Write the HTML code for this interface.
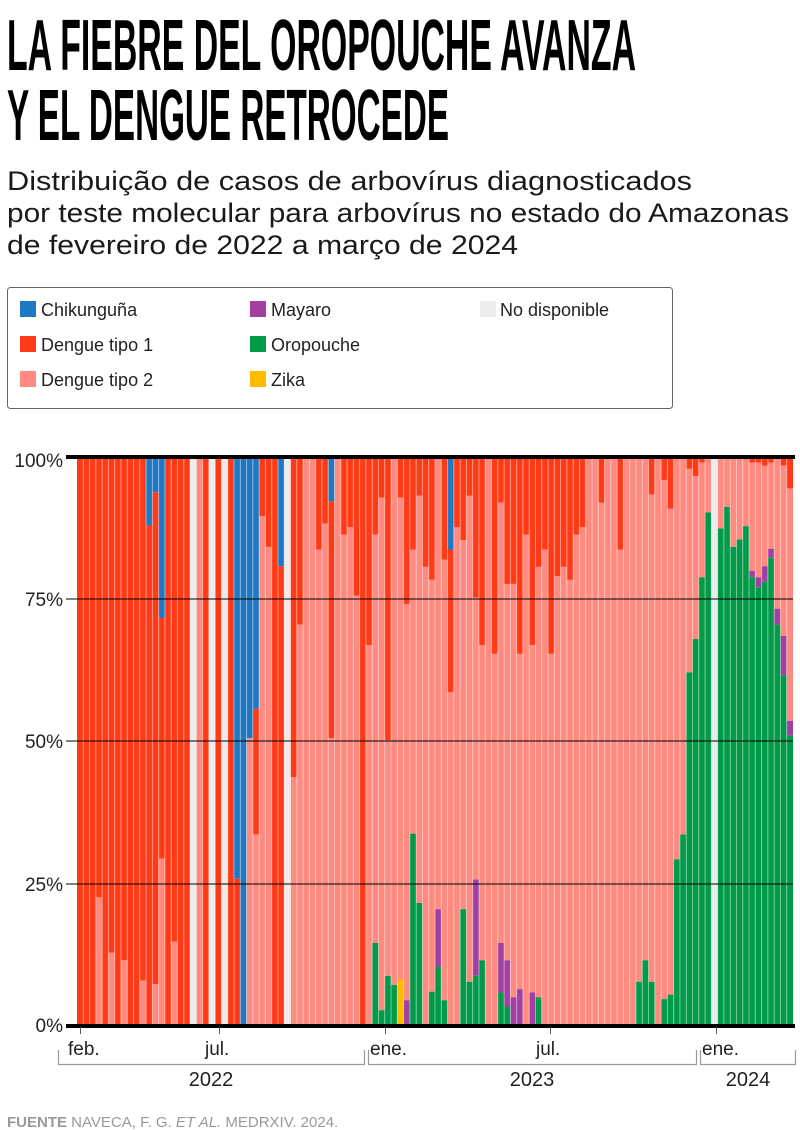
<!DOCTYPE html>
<html><head><meta charset="utf-8">
<style>
html,body{margin:0;padding:0;background:#fff;}
svg{display:block;}
text{font-family:"Liberation Sans",sans-serif;}
.cond{font-family:"Liberation Sans Narrow","Liberation Sans",sans-serif;font-weight:bold;}
</style></head>
<body>
<svg id="s" width="800" height="1130" viewBox="0 0 800 1130" xmlns="http://www.w3.org/2000/svg">
<text class="cond" x="7" y="70" font-size="72" textLength="629" lengthAdjust="spacingAndGlyphs" fill="#000">LA FIEBRE DEL OROPOUCHE AVANZA</text>
<text class="cond" x="7" y="140" font-size="72" textLength="442" lengthAdjust="spacingAndGlyphs" fill="#000">Y EL DENGUE RETROCEDE</text>
<text x="7" y="190" font-size="27" textLength="685" lengthAdjust="spacingAndGlyphs" fill="#1a1a1a">Distribuição de casos de arbovírus diagnosticados</text>
<text x="7" y="222" font-size="27" textLength="782" lengthAdjust="spacingAndGlyphs" fill="#1a1a1a">por teste molecular para arbovírus no estado do Amazonas</text>
<text x="7" y="254" font-size="27" textLength="511" lengthAdjust="spacingAndGlyphs" fill="#1a1a1a">de fevereiro de 2022 a março de 2024</text>
<rect x="7.5" y="287.5" width="665" height="121" rx="3" fill="#fff" stroke="#666" stroke-width="1"/>
<g font-size="18" fill="#222">
<rect x="20" y="301" width="16" height="16" fill="#1f78c1"/><text x="41" y="316">Chikunguña</text>
<rect x="20" y="336" width="16" height="16" fill="#ff3a17"/><text x="41" y="351">Dengue tipo 1</text>
<rect x="20" y="371" width="16" height="16" fill="#ff8a80"/><text x="41" y="386">Dengue tipo 2</text>
<rect x="250" y="301" width="16" height="16" fill="#a040a0"/><text x="271" y="316">Mayaro</text>
<rect x="250" y="336" width="16" height="16" fill="#009a49"/><text x="271" y="351">Oropouche</text>
<rect x="250" y="371" width="16" height="16" fill="#ffbb00"/><text x="271" y="386">Zika</text>
<rect x="480" y="301" width="16" height="16" fill="#ececec"/><text x="500" y="316">No disponible</text>
</g>
<g id="bars"></g>
<g stroke="#000" stroke-width="1">
<line x1="66" y1="599" x2="793" y2="599"/>
<line x1="66" y1="741" x2="793" y2="741"/>
<line x1="66" y1="884" x2="793" y2="884"/>
</g>
<line x1="66" y1="457" x2="795" y2="457" stroke="#000" stroke-width="4"/>
<line x1="66" y1="1026" x2="795" y2="1026" stroke="#000" stroke-width="4"/>
<g font-size="19" fill="#222" text-anchor="end">
<text x="63" y="467">100%</text>
<text x="63" y="606">75%</text>
<text x="63" y="748">50%</text>
<text x="63" y="891">25%</text>
<text x="63" y="1032">0%</text>
</g>
<g stroke="#555" stroke-width="1">
<line x1="80.5" y1="1027" x2="80.5" y2="1034"/>
<line x1="219.5" y1="1027" x2="219.5" y2="1034"/>
<line x1="385.5" y1="1027" x2="385.5" y2="1034"/>
<line x1="550.5" y1="1027" x2="550.5" y2="1034"/>
<line x1="716.5" y1="1027" x2="716.5" y2="1034"/>
</g>
<g font-size="19" fill="#222">
<text x="68" y="1055">feb.</text>
<text x="205" y="1055">jul.</text>
<text x="370" y="1055">ene.</text>
<text x="536" y="1055">jul.</text>
<text x="702" y="1055">ene.</text>
</g>
<g stroke="#999" stroke-width="1.2" fill="none">
<polyline points="58.5,1050 58.5,1064.5 364.5,1064.5 364.5,1050"/>
<polyline points="368.5,1050 368.5,1064.5 696.5,1064.5 696.5,1050"/>
<polyline points="700.5,1050 700.5,1064.5 795.5,1064.5 795.5,1050"/>
</g>
<g font-size="20" fill="#222" text-anchor="middle">
<text x="211" y="1086">2022</text>
<text x="532" y="1086">2023</text>
<text x="748" y="1086">2024</text>
</g>
<text x="7" y="1127" font-size="15" fill="#999"><tspan font-weight="bold">FUENTE</tspan> NAVECA, F. G. <tspan font-style="italic">ET AL.</tspan> MEDRXIV. 2024.</text>
</svg>
<script>
var C={B:"#1f78c1",R:"#ff3a17",P:"#ff8a80",M:"#a040a0",G:"#009a49",Y:"#ffbb00",N:"#ececec"};
var D=["R","R","R","R1215 P","R","R1365 P","R","R1385 P","R","R","R1440 P","B210 R","B120 R1450 P","B460 R1110 P","R","R1335 P","R","R","N","P","R","N","R","N","R","B1165 R","B","B785 P","B705 R1045 P","R185 P","R268 P","R","B320 R","N","R890 P","R478 P","P","P","R275 P","R205 P","B145 R785 P","P","R235 P","R215 P","R400 P","R","R533 P","R235 P1338 G","R135 P1520 G","R790 P1427 G","P1452 G","R135 P1437 Y","R423 P1493 M","R275 P1043 G","R130 P1230 G","R322 P","R357 P1470 G","P1247 M1403 G","R302 P1493 G","B275 R660 P","R215 P","R250 P1247 G","R130 P1443 G","R405 P1167 M1427 G","R533 P1385 G","P","R557 P","R148 P1338 M1472 G","R368 P1385 M1510 G","R368 P1485 M","R557 P1463 M","R235 P","R533 P1472 M","R322 P1485 G","R275 P","R557 P","R347 P","R322 P","R357 P","R235 P","R215 P","P","P","R148 P","P","P","R275 P","P","P","P1443 G","P1385 G","R127 P1443 G","P","R87 P1490 G","R165 P1478 G","P1112 G","P1045 G","R57 P607 G","R77 P517 G","R40 P350 G","P175 G","N","P218 G","P160 G","P268 G","P248 G","P212 G","R40 P333 M350 G","R40 P350 M377 G","R48 P320 M362 G","R40 P273 M297 G","P435 M478 G","R48 P508 M615 G","R110 P738 M778 G"];
var ns="http://www.w3.org/2000/svg",g=document.getElementById("bars");
var x0=77,pw=716/D.length;
function Y(z){return 457+(z-25)/1535*568;}
D.forEach(function(s,i){
 var parts=s.split(" "),top=457,x=x0+i*pw;
 parts.forEach(function(p,k){
  var c=p[0],end=p.length>1?Y(+p.slice(1)):1025;
  var r=document.createElementNS(ns,"rect");
  r.setAttribute("x",x.toFixed(2));r.setAttribute("y",top.toFixed(2));
  r.setAttribute("width",pw.toFixed(2));r.setAttribute("height",(end-top).toFixed(2));
  r.setAttribute("fill",C[c]);g.appendChild(r);top=end;
 });
 if(i>0){var l=document.createElementNS(ns,"rect");
  l.setAttribute("x",(x-0.5).toFixed(2));l.setAttribute("y",457);l.setAttribute("width",1);l.setAttribute("height",568);
  l.setAttribute("fill","#fff");l.setAttribute("fill-opacity","0.45");g.appendChild(l);}
});
</script>
</body></html>
